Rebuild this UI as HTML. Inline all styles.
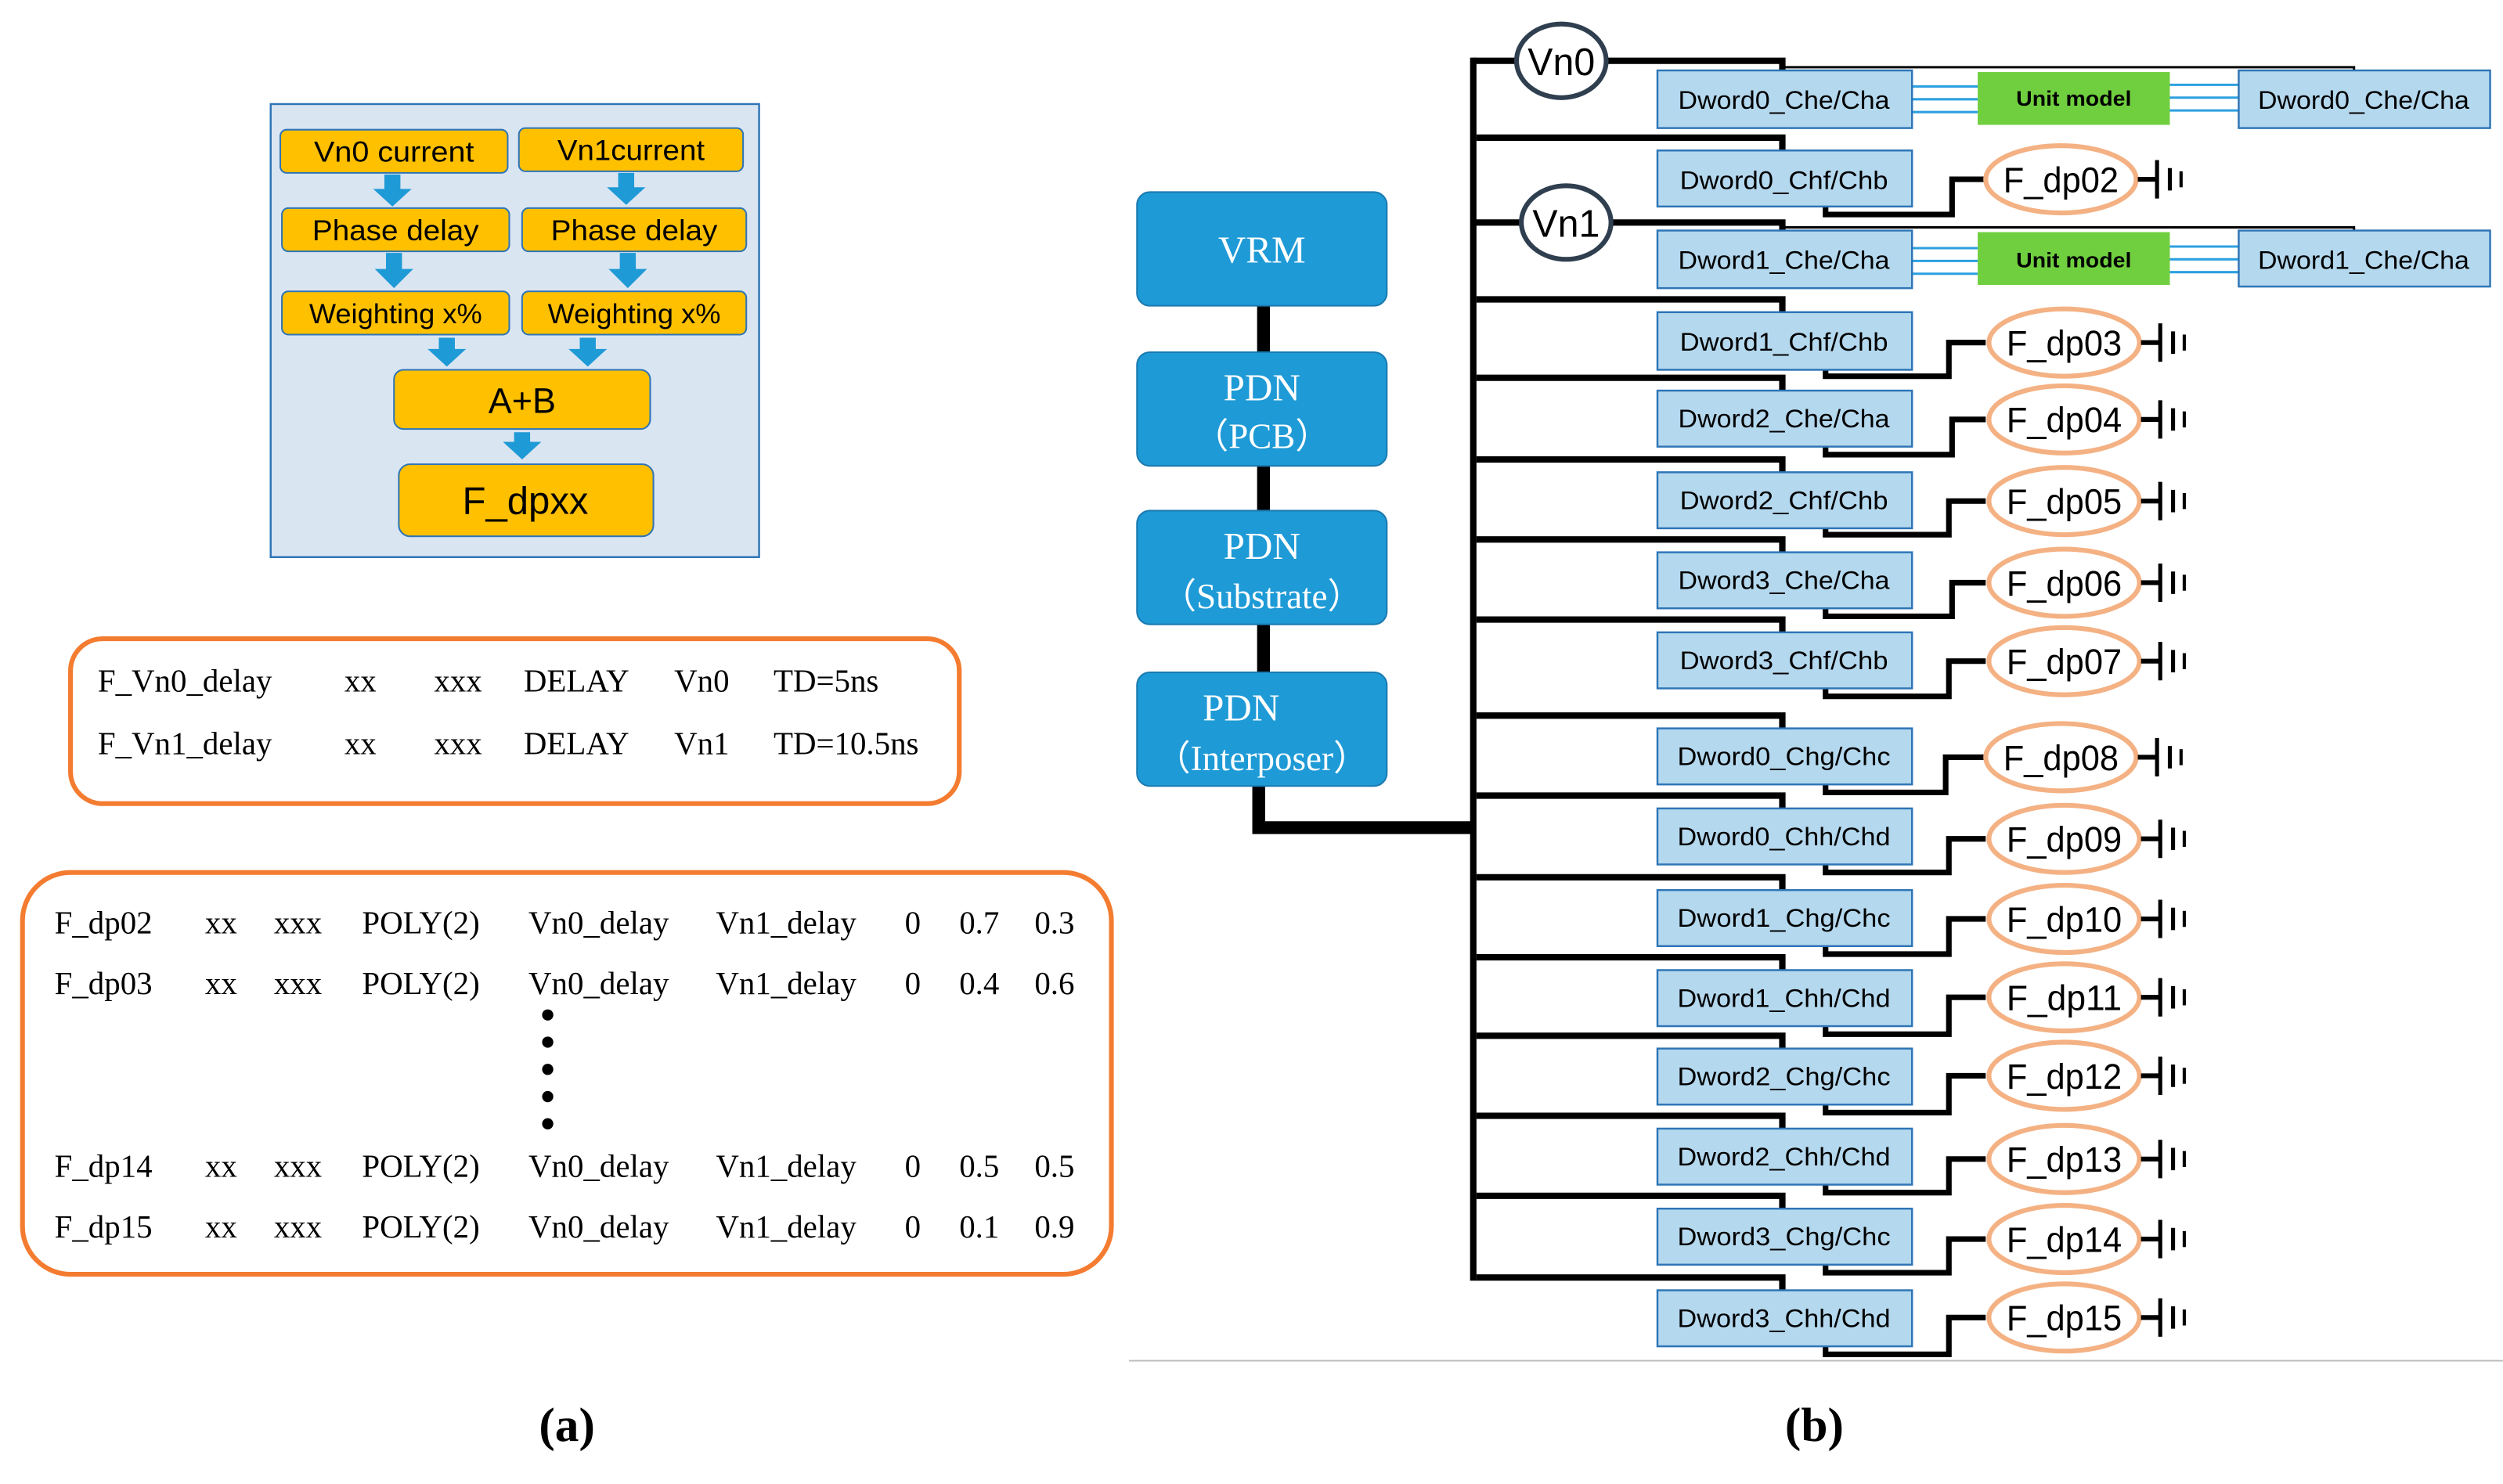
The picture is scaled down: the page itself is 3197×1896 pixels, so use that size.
<!DOCTYPE html>
<html><head><meta charset="utf-8"><style>
html,body{margin:0;padding:0;background:#fff}
svg{display:block}
.c{font-family:"Liberation Sans Narrow","Liberation Sans",sans-serif}
.s{font-family:"Liberation Serif",serif}
</style></head><body>
<svg width="3197" height="1896" viewBox="0 0 1563 927" xmlns="http://www.w3.org/2000/svg">
<rect x="169" y="65" width="305" height="283" fill="#dae5f2" stroke="#2e75b6" stroke-width="1.2"/>
<g fill="#ffc000" stroke="#2e75b6" stroke-width="1">
<rect x="175" y="81" width="142" height="27" rx="4"/>
<rect x="324" y="80" width="140" height="27" rx="4"/>
<rect x="176" y="130" width="142" height="27" rx="4"/>
<rect x="326" y="130" width="140" height="27" rx="4"/>
<rect x="176" y="182" width="142" height="27" rx="4"/>
<rect x="326" y="182" width="140" height="27" rx="4"/>
<rect x="246" y="231" width="160" height="37" rx="6"/>
<rect x="249" y="290" width="159" height="45" rx="7"/>
</g>
<g fill="#1e9ad6">
<path d="M240 109h10v9h7l-12 11l-12-11h7z"/>
<path d="M386 108h10v9h7l-12 11l-12-11h7z"/>
<path d="M241 158h10v10h7l-12 12l-12-12h7z"/>
<path d="M387 158h10v10h7l-12 12l-12-12h7z"/>
<path d="M274 211h10v7h7l-12 11l-12-11h7z"/>
<path d="M362 211h10v7h7l-12 11l-12-11h7z"/>
<path d="M321 270h10v6h7l-12 11l-12-11h7z"/>
</g>
<g class="c" font-size="18" text-anchor="middle" fill="#000">
<text x="246" y="101" textLength="100" lengthAdjust="spacingAndGlyphs">Vn0 current</text>
<text x="394" y="100" textLength="92" lengthAdjust="spacingAndGlyphs">Vn1current</text>
<text x="247" y="150" textLength="104" lengthAdjust="spacingAndGlyphs">Phase delay</text>
<text x="396" y="150" textLength="104" lengthAdjust="spacingAndGlyphs">Phase delay</text>
<text x="247" y="202" font-size="17" textLength="108" lengthAdjust="spacingAndGlyphs">Weighting x%</text>
<text x="396" y="202" font-size="17" textLength="108" lengthAdjust="spacingAndGlyphs">Weighting x%</text>
<text x="326" y="258" font-size="22">A+B</text>
<text x="328" y="321" font-size="24">F_dpxx</text>
</g>
<rect x="44" y="399" width="555" height="103" rx="20" fill="none" stroke="#f47c30" stroke-width="3"/>
<g class="s" font-size="20" fill="#000">
<text x="61" y="432">F_Vn0_delay</text><text x="215" y="432">xx</text><text x="271" y="432">xxx</text><text x="327" y="432">DELAY</text><text x="421" y="432">Vn0</text><text x="483" y="432">TD=5ns</text>
<text x="61" y="471">F_Vn1_delay</text><text x="215" y="471">xx</text><text x="271" y="471">xxx</text><text x="327" y="471">DELAY</text><text x="421" y="471">Vn1</text><text x="483" y="471">TD=10.5ns</text>
</g>
<rect x="14" y="545" width="680" height="251" rx="30" fill="none" stroke="#f47c30" stroke-width="3"/>
<g class="s" font-size="20" fill="#000">
<text x="34" y="583">F_dp02</text><text x="128" y="583">xx</text><text x="171" y="583">xxx</text><text x="226" y="583">POLY(2)</text><text x="330" y="583">Vn0_delay</text><text x="447" y="583">Vn1_delay</text><text x="565" y="583">0</text><text x="599" y="583">0.7</text><text x="646" y="583">0.3</text>
<text x="34" y="621">F_dp03</text><text x="128" y="621">xx</text><text x="171" y="621">xxx</text><text x="226" y="621">POLY(2)</text><text x="330" y="621">Vn0_delay</text><text x="447" y="621">Vn1_delay</text><text x="565" y="621">0</text><text x="599" y="621">0.4</text><text x="646" y="621">0.6</text>
<text x="34" y="735">F_dp14</text><text x="128" y="735">xx</text><text x="171" y="735">xxx</text><text x="226" y="735">POLY(2)</text><text x="330" y="735">Vn0_delay</text><text x="447" y="735">Vn1_delay</text><text x="565" y="735">0</text><text x="599" y="735">0.5</text><text x="646" y="735">0.5</text>
<text x="34" y="773">F_dp15</text><text x="128" y="773">xx</text><text x="171" y="773">xxx</text><text x="226" y="773">POLY(2)</text><text x="330" y="773">Vn0_delay</text><text x="447" y="773">Vn1_delay</text><text x="565" y="773">0</text><text x="599" y="773">0.1</text><text x="646" y="773">0.9</text>
</g>
<g fill="#000"><circle cx="342" cy="634" r="3.5"/><circle cx="342" cy="651" r="3.5"/><circle cx="342" cy="668" r="3.5"/><circle cx="342" cy="685" r="3.5"/><circle cx="342" cy="702" r="3.5"/></g>
<text class="s" x="354" y="900" font-size="30" font-weight="bold" text-anchor="middle">(a)</text>
<text class="s" x="1133" y="900" font-size="30" font-weight="bold" text-anchor="middle">(b)</text>
<line x1="705" y1="850" x2="1563" y2="850" stroke="#bbb" stroke-width="1"/>
<g stroke="#000" fill="none" stroke-width="8">
<line x1="789" y1="191" x2="789" y2="220"/><line x1="789" y1="291" x2="789" y2="319"/><line x1="789" y1="390" x2="789" y2="420"/>
<polyline points="786,491 786,517 920,517"/>
</g>
<g fill="#1e9ad6" stroke="#1a7ab0" stroke-width="1">
<rect x="710" y="120" width="156" height="71" rx="8"/><rect x="710" y="220" width="156" height="71" rx="8"/><rect x="710" y="319" width="156" height="71" rx="8"/><rect x="710" y="420" width="156" height="71" rx="8"/>
</g>
<g class="s" fill="#fff" font-size="24" text-anchor="middle">
<text x="788" y="164">VRM</text>
<text x="788" y="250">PDN</text><text x="788" y="280" font-size="22">（PCB）</text>
<text x="788" y="349">PDN</text><text x="788" y="380" font-size="22">（Substrate）</text>
<text x="775" y="450">PDN</text><text x="788" y="481" font-size="22">（Interposer）</text>
</g>
<line x1="920" y1="36" x2="920" y2="800" stroke="#000" stroke-width="4"/>
<g stroke="#000" fill="none" stroke-width="4">
<polyline points="920,38 947,38"/><polyline points="1003,38 1113,38 1113,45"/>
<polyline points="920,139 950,139"/><polyline points="1006,139 1113,139 1113,145"/>
<polyline points="922,86 1113,86 1113,95"/>
<polyline points="922,187 1113,187 1113,196"/>
<polyline points="922,236 1113,236 1113,245"/>
<polyline points="922,287 1113,287 1113,296"/>
<polyline points="922,337 1113,337 1113,346"/>
<polyline points="922,387 1113,387 1113,396"/>
<polyline points="922,447 1113,447 1113,456"/>
<polyline points="922,497 1113,497 1113,506"/>
<polyline points="922,548 1113,548 1113,557"/>
<polyline points="922,598 1113,598 1113,607"/>
<polyline points="922,647 1113,647 1113,656"/>
<polyline points="922,697 1113,697 1113,706"/>
<polyline points="922,747 1113,747 1113,756"/>
<polyline points="922,798 1113,798 1113,807"/>
</g>
<g stroke="#000" fill="none" stroke-width="1.5">
<polyline points="1113,42 1470,42 1470,45"/><polyline points="1113,142 1470,142 1470,145"/>
</g>
<ellipse cx="975" cy="38" rx="28" ry="23" fill="#fff" stroke="#2f3f4f" stroke-width="3"/>
<ellipse cx="978" cy="139" rx="28" ry="23" fill="#fff" stroke="#2f3f4f" stroke-width="3"/>
<g class="c" font-size="24" text-anchor="middle"><text x="975" y="47" textLength="42" lengthAdjust="spacingAndGlyphs">Vn0</text><text x="978" y="148" textLength="42" lengthAdjust="spacingAndGlyphs">Vn1</text></g>
<g stroke="#2ca0e0" stroke-width="1.5">
<line x1="1194" y1="54" x2="1235" y2="54"/><line x1="1194" y1="62" x2="1235" y2="62"/><line x1="1194" y1="70" x2="1235" y2="70"/>
<line x1="1355" y1="53" x2="1398" y2="53"/><line x1="1355" y1="61" x2="1398" y2="61"/><line x1="1355" y1="69" x2="1398" y2="69"/>
<line x1="1194" y1="155" x2="1235" y2="155"/><line x1="1194" y1="163" x2="1235" y2="163"/><line x1="1194" y1="171" x2="1235" y2="171"/>
<line x1="1355" y1="154" x2="1398" y2="154"/><line x1="1355" y1="162" x2="1398" y2="162"/><line x1="1355" y1="170" x2="1398" y2="170"/>
</g>
<g fill="#70cf3f"><rect x="1235" y="45" width="120" height="33"/><rect x="1235" y="145" width="120" height="33"/></g>
<g class="c" font-size="13" font-weight="bold" text-anchor="middle"><text x="1295" y="66" textLength="72" lengthAdjust="spacingAndGlyphs">Unit model</text><text x="1295" y="167" textLength="72" lengthAdjust="spacingAndGlyphs">Unit model</text></g>
<g fill="#b4d8ee" stroke="#2e75b6" stroke-width="1.2">
<rect x="1398" y="44" width="157" height="36"/><rect x="1398" y="144" width="157" height="35"/>
</g>
<g class="c" font-size="16" text-anchor="middle"><text x="1476" y="68" textLength="132" lengthAdjust="spacingAndGlyphs">Dword0_Che/Cha</text><text x="1476" y="168" textLength="132" lengthAdjust="spacingAndGlyphs">Dword1_Che/Cha</text></g>
<g stroke="#000" fill="none" stroke-width="3.5">
<polyline points="1140,129 1140,134 1219,134 1219,112 1240,112"/>
<polyline points="1140,231 1140,235 1217,235 1217,214 1240,214"/>
<polyline points="1140,279 1140,284 1219,284 1219,262 1240,262"/>
<polyline points="1140,330 1140,334 1217,334 1217,313 1240,313"/>
<polyline points="1140,380 1140,385 1219,385 1219,364 1240,364"/>
<polyline points="1140,430 1140,435 1217,435 1217,413 1240,413"/>
<polyline points="1140,490 1140,495 1215,495 1215,473 1240,473"/>
<polyline points="1140,540 1140,545 1217,545 1217,524 1240,524"/>
<polyline points="1140,591 1140,596 1217,596 1217,574 1240,574"/>
<polyline points="1140,641 1140,646 1217,646 1217,623 1240,623"/>
<polyline points="1140,690 1140,695 1217,695 1217,672 1240,672"/>
<polyline points="1140,740 1140,745 1217,745 1217,724 1240,724"/>
<polyline points="1140,790 1140,795 1217,795 1217,774 1240,774"/>
<polyline points="1140,841 1140,846 1217,846 1217,823 1240,823"/>
</g>
<g fill="#b4d8ee" stroke="#2e75b6" stroke-width="1.2">
<rect x="1035" y="44" width="159" height="36"/><rect x="1035" y="94" width="159" height="35"/><rect x="1035" y="144" width="159" height="36"/>
<rect x="1035" y="195" width="159" height="36"/><rect x="1035" y="244" width="159" height="35"/><rect x="1035" y="295" width="159" height="35"/>
<rect x="1035" y="345" width="159" height="35"/><rect x="1035" y="395" width="159" height="35"/><rect x="1035" y="455" width="159" height="35"/>
<rect x="1035" y="505" width="159" height="35"/><rect x="1035" y="556" width="159" height="35"/><rect x="1035" y="606" width="159" height="35"/>
<rect x="1035" y="655" width="159" height="35"/><rect x="1035" y="705" width="159" height="35"/><rect x="1035" y="755" width="159" height="35"/>
<rect x="1035" y="806" width="159" height="35"/>
</g>
<g class="c" font-size="16" text-anchor="middle" lengthAdjust="spacingAndGlyphs">
<text x="1114" y="68" textLength="132" lengthAdjust="spacingAndGlyphs">Dword0_Che/Cha</text><text x="1114" y="118" textLength="130" lengthAdjust="spacingAndGlyphs">Dword0_Chf/Chb</text><text x="1114" y="168" textLength="132" lengthAdjust="spacingAndGlyphs">Dword1_Che/Cha</text>
<text x="1114" y="219" textLength="130" lengthAdjust="spacingAndGlyphs">Dword1_Chf/Chb</text><text x="1114" y="267" textLength="132" lengthAdjust="spacingAndGlyphs">Dword2_Che/Cha</text><text x="1114" y="318" textLength="130" lengthAdjust="spacingAndGlyphs">Dword2_Chf/Chb</text>
<text x="1114" y="368" textLength="132" lengthAdjust="spacingAndGlyphs">Dword3_Che/Cha</text><text x="1114" y="418" textLength="130" lengthAdjust="spacingAndGlyphs">Dword3_Chf/Chb</text><text x="1114" y="478" textLength="133" lengthAdjust="spacingAndGlyphs">Dword0_Chg/Chc</text>
<text x="1114" y="528" textLength="133" lengthAdjust="spacingAndGlyphs">Dword0_Chh/Chd</text><text x="1114" y="579" textLength="133" lengthAdjust="spacingAndGlyphs">Dword1_Chg/Chc</text><text x="1114" y="629" textLength="133" lengthAdjust="spacingAndGlyphs">Dword1_Chh/Chd</text>
<text x="1114" y="678" textLength="133" lengthAdjust="spacingAndGlyphs">Dword2_Chg/Chc</text><text x="1114" y="728" textLength="133" lengthAdjust="spacingAndGlyphs">Dword2_Chh/Chd</text><text x="1114" y="778" textLength="133" lengthAdjust="spacingAndGlyphs">Dword3_Chg/Chc</text>
<text x="1114" y="829" textLength="133" lengthAdjust="spacingAndGlyphs">Dword3_Chh/Chd</text>
</g>
<g fill="#fff" stroke="#f4b183" stroke-width="3">
<ellipse cx="1287" cy="112" rx="47" ry="21"/><ellipse cx="1289" cy="214" rx="47" ry="21"/><ellipse cx="1289" cy="262" rx="47" ry="21"/>
<ellipse cx="1289" cy="313" rx="47" ry="21"/><ellipse cx="1289" cy="364" rx="47" ry="21"/><ellipse cx="1289" cy="413" rx="47" ry="21"/>
<ellipse cx="1287" cy="473" rx="47" ry="21"/><ellipse cx="1289" cy="524" rx="47" ry="21"/><ellipse cx="1289" cy="574" rx="47" ry="21"/>
<ellipse cx="1289" cy="623" rx="47" ry="21"/><ellipse cx="1289" cy="672" rx="47" ry="21"/><ellipse cx="1289" cy="724" rx="47" ry="21"/>
<ellipse cx="1289" cy="774" rx="47" ry="21"/><ellipse cx="1289" cy="823" rx="47" ry="21"/>
</g>
<g class="c" font-size="22" text-anchor="middle">
<text x="1287" y="120" textLength="72" lengthAdjust="spacingAndGlyphs">F_dp02</text><text x="1289" y="222" textLength="72" lengthAdjust="spacingAndGlyphs">F_dp03</text><text x="1289" y="270" textLength="72" lengthAdjust="spacingAndGlyphs">F_dp04</text>
<text x="1289" y="321" textLength="72" lengthAdjust="spacingAndGlyphs">F_dp05</text><text x="1289" y="372" textLength="72" lengthAdjust="spacingAndGlyphs">F_dp06</text><text x="1289" y="421" textLength="72" lengthAdjust="spacingAndGlyphs">F_dp07</text>
<text x="1287" y="481" textLength="72" lengthAdjust="spacingAndGlyphs">F_dp08</text><text x="1289" y="532" textLength="72" lengthAdjust="spacingAndGlyphs">F_dp09</text><text x="1289" y="582" textLength="72" lengthAdjust="spacingAndGlyphs">F_dp10</text>
<text x="1289" y="631" textLength="72" lengthAdjust="spacingAndGlyphs">F_dp11</text><text x="1289" y="680" textLength="72" lengthAdjust="spacingAndGlyphs">F_dp12</text><text x="1289" y="732" textLength="72" lengthAdjust="spacingAndGlyphs">F_dp13</text>
<text x="1289" y="782" textLength="72" lengthAdjust="spacingAndGlyphs">F_dp14</text><text x="1289" y="831" textLength="72" lengthAdjust="spacingAndGlyphs">F_dp15</text>
</g>
<defs><g id="gnd" stroke="#000" fill="none"><line x1="0" y1="0" x2="12" y2="0" stroke-width="3"/><line x1="12" y1="-12" x2="12" y2="12" stroke-width="2.5"/><line x1="20" y1="-7" x2="20" y2="7" stroke-width="2.5"/><line x1="27" y1="-5" x2="27" y2="5" stroke-width="2"/></g></defs>
<use href="#gnd" x="1335" y="112"/><use href="#gnd" x="1337" y="214"/><use href="#gnd" x="1337" y="262"/>
<use href="#gnd" x="1337" y="313"/><use href="#gnd" x="1337" y="364"/><use href="#gnd" x="1337" y="413"/>
<use href="#gnd" x="1335" y="473"/><use href="#gnd" x="1337" y="524"/><use href="#gnd" x="1337" y="574"/>
<use href="#gnd" x="1337" y="623"/><use href="#gnd" x="1337" y="672"/><use href="#gnd" x="1337" y="724"/>
<use href="#gnd" x="1337" y="774"/><use href="#gnd" x="1337" y="823"/>
</svg>
</body></html>
